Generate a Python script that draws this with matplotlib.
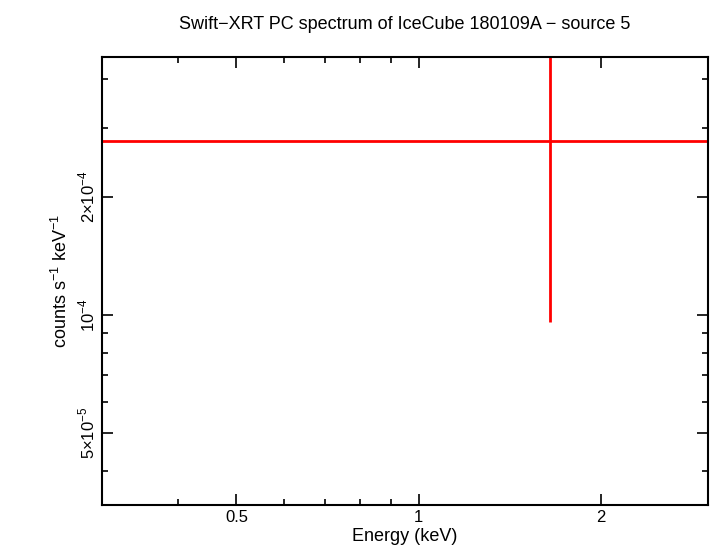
import numpy as np
import matplotlib.pyplot as plt
from matplotlib.ticker import FixedLocator, NullFormatter

plt.rcParams["font.family"] = "Liberation Sans"
plt.rcParams["mathtext.fontset"] = "custom"
plt.rcParams["mathtext.rm"] = "Liberation Sans"

# spectrum bin (single point)
energy = [1.646]
energy_lo = [0.3]
energy_hi = [3.0]
rate = [2.78e-4]
rate_err_lo = [1.82e-4]
rate_err_hi = [2.5e-4]

fig = plt.figure(figsize=(7.1, 5.56), dpi=100)
ax = fig.add_axes([102/710, 51/556, 606/710, 448/556])

x = np.array(energy)
y = np.array(rate)
ax.errorbar(x, y,
            xerr=[x - np.array(energy_lo), np.array(energy_hi) - x],
            yerr=[rate_err_lo, rate_err_hi],
            fmt="none", ecolor="red", elinewidth=2, capsize=0)

ax.set_xscale("log")
ax.set_yscale("log")
ax.set_xlim(0.3, 3.0)
ax.set_ylim(3.27e-5, 4.55e-4)

ax.xaxis.set_major_locator(FixedLocator([0.5, 1, 2]))
ax.set_xticklabels(["0.5", "1", "2"])
ax.xaxis.set_minor_locator(FixedLocator([0.3, 0.4, 0.6, 0.7, 0.8, 0.9, 3]))
ax.xaxis.set_minor_formatter(NullFormatter())
ax.yaxis.set_major_locator(FixedLocator([5e-5, 1e-4, 2e-4]))
ax.set_yticklabels([r"5$\times$10$^{-5}$", r"10$^{-4}$", r"2$\times$10$^{-4}$"],
                   rotation=90, va="center")
ax.yaxis.set_minor_locator(FixedLocator([4e-5, 6e-5, 7e-5, 8e-5, 9e-5, 3e-4, 4e-4]))
ax.yaxis.set_minor_formatter(NullFormatter())

ax.tick_params(which="both", direction="in", top=True, right=True, labelsize=12, width=1.2)
ax.tick_params(which="major", length=8)
ax.tick_params(which="minor", length=4)
for s in ax.spines.values():
    s.set_linewidth(1.5)

ax.set_xlabel("Energy (keV)", fontsize=13, labelpad=2)
ax.set_ylabel(r"counts s$^{-1}$ keV$^{-1}$", fontsize=13)
ax.set_title("Swift\u2212XRT PC spectrum of IceCube 180109A \u2212 source 5", fontsize=13, pad=20)

fig.savefig("out.png")
